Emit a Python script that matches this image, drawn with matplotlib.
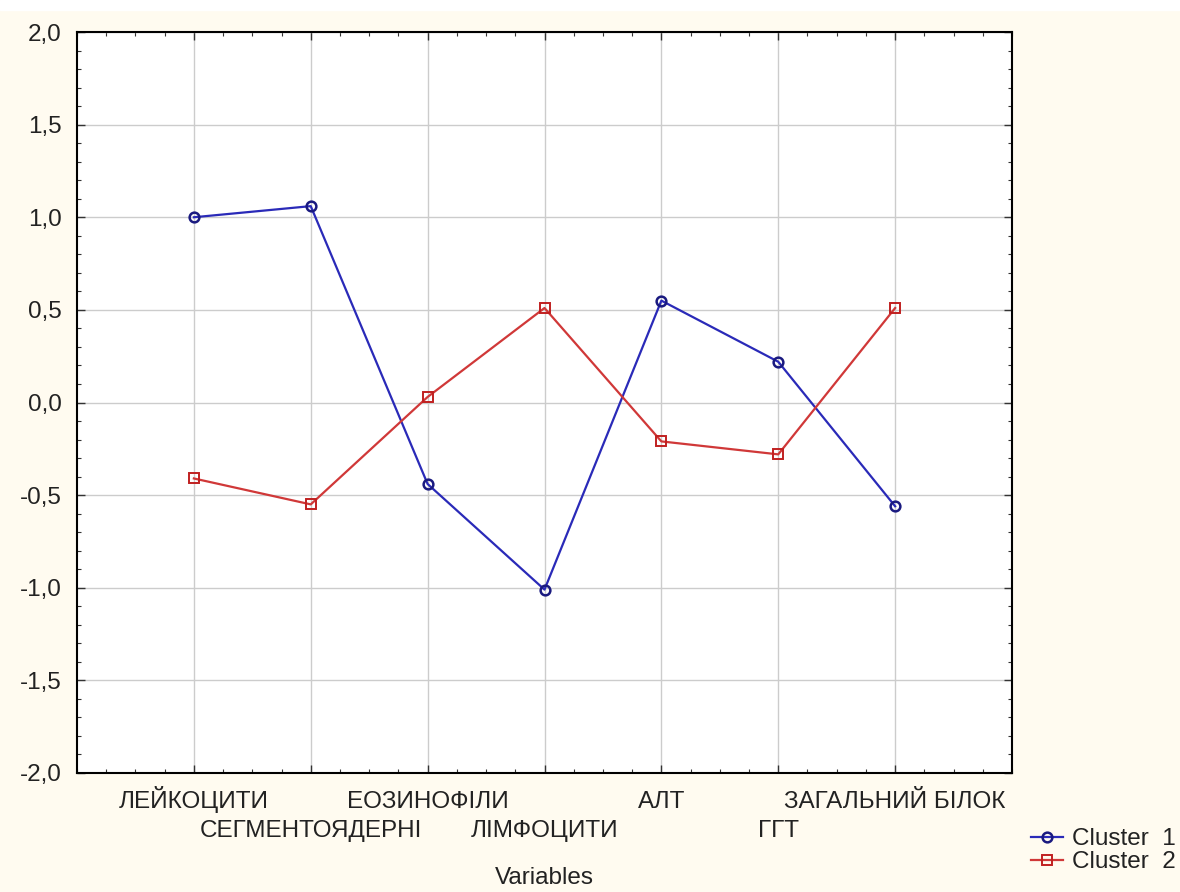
import numpy as np
import matplotlib.pyplot as plt
from matplotlib.ticker import FuncFormatter, MultipleLocator, AutoMinorLocator
from matplotlib.patches import Rectangle

plt.rcParams['font.family'] = ['Liberation Sans', 'DejaVu Sans']

# ------------------------------------------------------------------
# Datos
# ------------------------------------------------------------------
variables = ["ЛЕЙКОЦИТИ", "СЕГМЕНТОЯДЕРНІ", "ЕОЗИНОФІЛИ", "ЛІМФОЦИТИ",
             "АЛТ", "ГГТ", "ЗАГАЛЬНИЙ БІЛОК"]
cluster_1 = [1.00, 1.06, -0.44, -1.01, 0.55, 0.22, -0.56]
cluster_2 = [-0.41, -0.55, 0.03, 0.51, -0.21, -0.28, 0.51]

x = np.arange(1, len(variables) + 1)

fondo = '#fffbf0'
fs = 17.5

fig = plt.figure(figsize=(11.8, 8.92), dpi=100, facecolor=fondo)
fig.patches.append(Rectangle((0, 1 - 10 / 892), 1, 10 / 892,
                             transform=fig.transFigure, color='white', zorder=0))
ax = fig.add_axes([77 / 1180, 1 - 773 / 892, (1012 - 77) / 1180, (773 - 32) / 892])
ax.set_facecolor('white')

l1, = ax.plot(x, cluster_1, color='#2a2ab8', linewidth=1.6, marker='o',
              markersize=7, markerfacecolor='none', markeredgecolor='#1a1a80',
              markeredgewidth=1.8, label='Cluster  1')
l2, = ax.plot(x, cluster_2, color='#d03838', linewidth=1.6, marker='s',
              markersize=6.5, markerfacecolor='none', markeredgecolor='#c02020',
              markeredgewidth=1.4, label='Cluster  2')

ax.set_xlim(0, len(variables) + 1)
ax.set_ylim(-2.0, 2.0)
ax.set_xticks(x)
ax.set_xticklabels(variables, fontsize=fs, color='#222222', va='baseline')
ax.xaxis.set_minor_locator(AutoMinorLocator(4))
ax.yaxis.set_major_locator(MultipleLocator(0.5))
ax.yaxis.set_minor_locator(MultipleLocator(0.1))
ax.yaxis.set_major_formatter(FuncFormatter(lambda v, p: f"{v:.1f}".replace('.', ',')))
ax.tick_params(axis='y', labelsize=fs, labelcolor='#222222', pad=11)

ax.tick_params(which='both', direction='in', top=True, right=True, color='#333333')
ax.tick_params(which='major', length=6, width=1)
ax.tick_params(which='minor', length=3, width=0.8)

# etiquetas alternadas en dos filas
for i, tick in enumerate(ax.xaxis.get_major_ticks()):
    tick.set_pad(25 if i % 2 == 0 else 46)

ax.grid(True, which='major', color='#cccccc', linewidth=1)
ax.set_axisbelow(True)
for s in ax.spines.values():
    s.set_linewidth(1.5)
    s.set_color('black')

ax.set_xlabel("Variables", fontsize=fs, color='#222222', labelpad=18)

fig.legend(handles=[l1, l2], loc='lower right', bbox_to_anchor=(1.005, 0.01),
           frameon=False, fontsize=fs, handlelength=1.3, handletextpad=0.4,
           labelspacing=0.05, borderaxespad=0.0, labelcolor='#222222')

plt.savefig("out.png", dpi=100, facecolor=fondo)
